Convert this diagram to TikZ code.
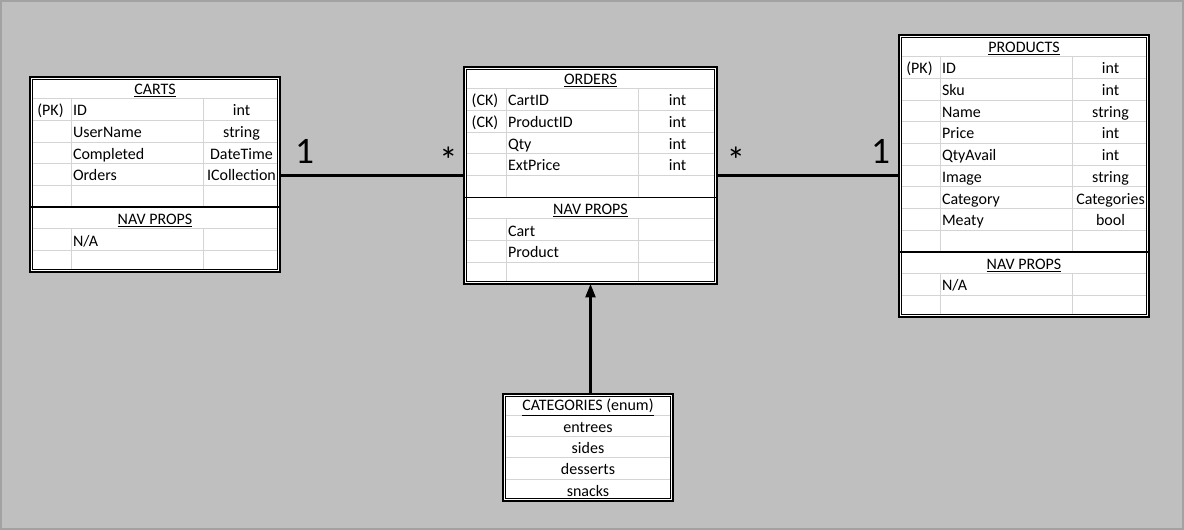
\documentclass[tikz,border=0pt]{standalone}
\usepackage{fontspec}
\setmainfont{Carlito}
\usetikzlibrary{fit,arrows.meta}
\definecolor{bg}{HTML}{BFBFBF}
\definecolor{edgegray}{HTML}{A2A2A2}
\definecolor{gridc}{HTML}{D4D4D4}
\tikzset{
  x=0.75pt,y=-0.75pt,
  tblbg/.style={fill=white,inner sep=0pt,outer sep=0pt},
  outerb/.style={draw=black,line width=1.5pt},
  innerb/.style={draw=black,line width=0.75pt},
  gridline/.style={draw=gridc,line width=0.7pt},
  septhick/.style={draw=black,line width=1.5pt},
  septhin/.style={draw=black,line width=0.9pt},
  cell/.style={inner sep=0pt,outer sep=0pt,font=\fontsize{12}{14}\selectfont,anchor=base},
  celll/.style={cell,anchor=base west},
  mult/.style={inner sep=0pt,outer sep=0pt,font=\fontsize{28}{30}\selectfont,anchor=north},
  conn/.style={draw=black,line width=1.6pt},
}
% #1 name, #2 x0, #3 x1, #4 x2, #5 x3, #6 top, #7 row height, #8 rows above separator, #9 total rows
\newcommand\ertable[9]{%
  \pgfmathsetmacro\tbot{#6+#9*#7}%
  \pgfmathsetmacro\tsep{#6+#8*#7}%
  \pgfmathtruncatemacro\tlast{#9-1}%
  \node[tblbg,fit={(#2,#6)(#5,\tbot)}] (#1) {};
  \foreach \r in {1,...,\tlast}{
    \draw[gridline] ({#2+3},{#6+\r*#7}) -- ({#5-3},{#6+\r*#7});
  }
  \foreach \xx in {#3,#4}{
    \draw[gridline] (\xx,{#6+#7}) -- (\xx,\tsep);
    \draw[gridline] (\xx,{\tsep+#7}) -- (\xx,{\tbot-3});
  }
}
\newcommand\dblborder[1]{%
  \draw[outerb] (#1.north west) rectangle (#1.south east);
  \draw[innerb] ([shift={(2.5,2.5)}]#1.north west) rectangle ([shift={(-2.5,-2.5)}]#1.south east);
}
\begin{document}
\begin{tikzpicture}
\useasboundingbox (0,0) rectangle (1184,530);
\fill[bg] (0,0) rectangle (1184,530);
\draw[edgegray,line width=1.5pt] (1,1) rectangle (1183,529);

% ---------- CARTS ----------
\ertable{carts}{30}{71}{203}{280}{77}{21.7}{6}{9}
\draw[septhick] (30,{77+6*21.7}) -- (280,{77+6*21.7});
\dblborder{carts}
\node[cell] (carts-h) at (155,{77+21.7-4.5}) {\underline{CARTS}};
\foreach \i/\k/\n/\t in {1/{(PK)}/ID/int,2/{}/UserName/string,3/{}/Completed/DateTime,4/{}/Orders/ICollection}{
  \pgfmathsetmacro\yy{77+(\i+1)*21.7-4.5}
  \node[cell] (carts-k\i) at (50.5,\yy) {\k};
  \node[celll] (carts-n\i) at (73,\yy) {\n};
  \node[cell] (carts-t\i) at (241.5,\yy) {\t};
}
\node[cell] (carts-nav) at (155,{77+7*21.7-4.5}) {\underline{NAV PROPS}};
\node[celll] (carts-nav1) at (73,{77+8*21.7-4.5}) {N/A};

% ---------- ORDERS ----------
\ertable{orders}{464}{506}{638}{717}{67}{21.7}{6}{10}
\draw[septhin] (464,{67+6*21.7}) -- (717,{67+6*21.7});
\dblborder{orders}
\node[cell] (orders-h) at (590.5,{67+21.7-4.5}) {\underline{ORDERS}};
\foreach \i/\k/\n/\t in {1/{(CK)}/CartID/int,2/{(CK)}/ProductID/int,3/{}/Qty/int,4/{}/ExtPrice/int}{
  \pgfmathsetmacro\yy{67+(\i+1)*21.7-4.5}
  \node[cell] (orders-k\i) at (485,\yy) {\k};
  \node[celll] (orders-n\i) at (508,\yy) {\n};
  \node[cell] (orders-t\i) at (677.5,\yy) {\t};
}
\node[cell] (orders-nav) at (590.5,{67+7*21.7-4.5}) {\underline{NAV PROPS}};
\node[celll] (orders-nav1) at (508,{67+8*21.7-4.5}) {Cart};
\node[celll] (orders-nav2) at (508,{67+9*21.7-4.5}) {Product};

% ---------- PRODUCTS ----------
\ertable{products}{899}{940}{1072}{1149}{35}{21.7}{10}{13}
\draw[septhick] (899,{35+10*21.7}) -- (1149,{35+10*21.7});
\dblborder{products}
\node[cell] (products-h) at (1024,{35+21.7-4.5}) {\underline{PRODUCTS}};
\foreach \i/\k/\n/\t in {1/{(PK)}/ID/int,2/{}/Sku/int,3/{}/Name/string,4/{}/Price/int,5/{}/QtyAvail/int,6/{}/Image/string,7/{}/Category/Categories,8/{}/Meaty/bool}{
  \pgfmathsetmacro\yy{35+(\i+1)*21.7-4.5}
  \node[cell] (products-k\i) at (919.5,\yy) {\k};
  \node[celll] (products-n\i) at (942,\yy) {\n};
  \node[cell] (products-t\i) at (1110.5,\yy) {\t};
}
\node[cell] (products-nav) at (1024,{35+11*21.7-4.5}) {\underline{NAV PROPS}};
\node[celll] (products-nav1) at (942,{35+12*21.7-4.5}) {N/A};

% ---------- CATEGORIES ----------
\node[tblbg,fit={(503,394)(673,{394+5*21.3})}] (cats) {};
\foreach \r in {1,...,4}{
  \draw[gridline] (506,{394+\r*21.3}) -- (670,{394+\r*21.3});
}
\dblborder{cats}
\foreach \i/\t in {0/{\underline{CATEGORIES (enum)}},1/entrees,2/sides,3/desserts,4/snacks}{
  \node[cell] (cats-\i) at (588,{394+(\i+1)*21.3-4.5}) {\t};
}

% ---------- connectors ----------
\draw[conn] (carts.east |- orders.west) -- (orders.west);
\draw[conn] (orders.east) -- (orders.east -| products.west);
\draw[conn,-{Triangle[length=10pt,width=7.5pt]}] (orders.south |- cats.north) -- (orders.south);

\node[mult] (m1) at (304.5,139) {1};
\node[mult] (m2) at (448.5,147) {*};
\node[mult] (m3) at (736,147) {*};
\node[mult] (m4) at (880.5,139) {1};
\end{tikzpicture}
\end{document}
